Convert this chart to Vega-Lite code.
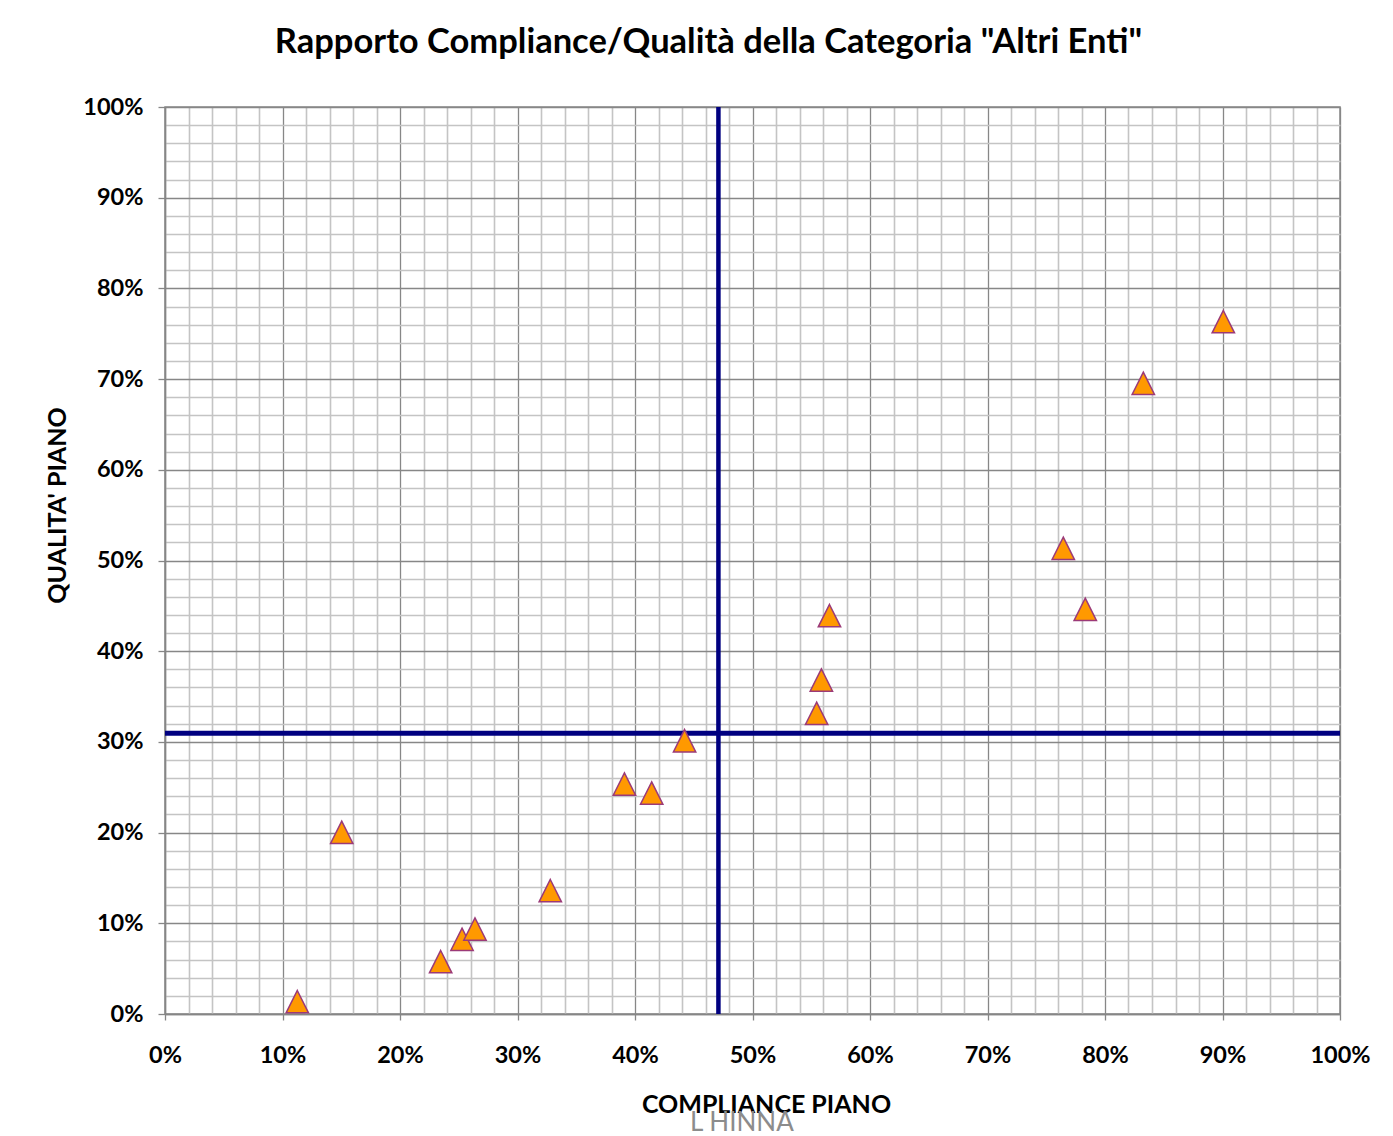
{
  "$schema": "https://vega.github.io/schema/vega-lite/v6.json",
  "width": 1175,
  "height": 907,
  "autosize": {"type": "none"},
  "padding": {"left": 165, "top": 107, "right": 53, "bottom": 122},
  "background": "white",
  "title": {
    "text": "Rapporto Compliance/Qualità della Categoria \"Altri Enti\"",
    "font": "Lato",
    "fontSize": 34.5,
    "fontWeight": "bold",
    "color": "#000000",
    "anchor": "middle",
    "frame": "group",
    "baseline": "alphabetic",
    "dx": -44,
    "offset": 8
  },
  "config": {
    "view": {"stroke": "#868686", "strokeWidth": 1.5},
    "axis": {
      "tickCount": 100,
      "labelExpr": "round(datum.value*100) % 10 === 0 ? round(datum.value*100) + '%' : ''",
      "labelOverlap": false,
      "labelBound": false,
      "labelFlush": false,
      "labelFont": "Lato",
      "labelFontSize": 23.5,
      "labelFontWeight": "bold",
      "labelColor": "#000000",
      "grid": true,
      "gridColor": {"condition": {"test": "round(datum.value*100) % 10 === 0", "value": "#878787"}, "value": "#c4c4c4"},
      "gridWidth": {"condition": {"test": "round(datum.value*100) % 10 === 0", "value": 1.3}, "value": 1.6},
      "domain": true,
      "domainColor": "#868686",
      "domainWidth": 1.5,
      "ticks": true,
      "tickColor": "#868686",
      "tickWidth": 1.3,
      "tickOpacity": {"condition": {"test": "round(datum.value*100) % 10 === 0", "value": 1}, "value": 0},
      "titleFont": "Lato",
      "titleFontSize": 25,
      "titleFontWeight": "bold",
      "titleColor": "#000000"
    },
    "axisX": {"tickSize": 6, "labelPadding": 23},
    "axisY": {"tickSize": 7, "labelPadding": 15}
  },
  "layer": [
    {
      "data": {"values": [{"compliance": 0.471}]},
      "mark": {"type": "rule", "color": "#000080", "strokeWidth": 4.5},
      "encoding": {
        "x": {
          "field": "compliance",
          "type": "quantitative",
          "scale": {"domain": [0, 1], "nice": false, "zero": false},
          "axis": {
            "tickCount": 100,
            "values": [0,0.02,0.04,0.06,0.08,0.1,0.12,0.14,0.16,0.18,0.2,0.22,0.24,0.26,0.28,0.3,0.32,0.34,0.36,0.38,0.4,0.42,0.44,0.46,0.48,0.5,0.52,0.54,0.56,0.58,0.6,0.62,0.64,0.66,0.68,0.7,0.72,0.74,0.76,0.78,0.8,0.82,0.84,0.86,0.88,0.9,0.92,0.94,0.96,0.98,1],
            "title": "COMPLIANCE PIANO", "titleX": 601, "titleY": 98, "titleBaseline": "alphabetic", "titleAlign": "center", "titleAnchor": null}
        }
      }
    },
    {
      "data": {"values": [{"qualita": 0.3095}]},
      "mark": {"type": "rule", "color": "#000080", "strokeWidth": 5},
      "encoding": {
        "y": {
          "field": "qualita",
          "type": "quantitative",
          "scale": {"domain": [0, 1], "nice": false, "zero": false},
          "axis": {
            "tickCount": 100,
            "values": [0,0.02,0.04,0.06,0.08,0.1,0.12,0.14,0.16,0.18,0.2,0.22,0.24,0.26,0.28,0.3,0.32,0.34,0.36,0.38,0.4,0.42,0.44,0.46,0.48,0.5,0.52,0.54,0.56,0.58,0.6,0.62,0.64,0.66,0.68,0.7,0.72,0.74,0.76,0.78,0.8,0.82,0.84,0.86,0.88,0.9,0.92,0.94,0.96,0.98,1],
            "title": "QUALITA' PIANO", "titleAngle": 270, "titleX": -108, "titleY": 398, "titleBaseline": "middle", "titleAlign": "center", "titleAnchor": null}
        }
      }
    },
    {
      "data": {"values": [
        {"compliance": 0.1126, "qualita": 0.0136},
        {"compliance": 0.1504, "qualita": 0.2003},
        {"compliance": 0.2346, "qualita": 0.0577},
        {"compliance": 0.2528, "qualita": 0.0823},
        {"compliance": 0.2638, "qualita": 0.0937},
        {"compliance": 0.3279, "qualita": 0.136},
        {"compliance": 0.391, "qualita": 0.2535},
        {"compliance": 0.4142, "qualita": 0.2436},
        {"compliance": 0.4422, "qualita": 0.3013},
        {"compliance": 0.5546, "qualita": 0.3315},
        {"compliance": 0.5586, "qualita": 0.3682},
        {"compliance": 0.5655, "qualita": 0.4392},
        {"compliance": 0.7645, "qualita": 0.5134},
        {"compliance": 0.7832, "qualita": 0.4462},
        {"compliance": 0.8326, "qualita": 0.6954},
        {"compliance": 0.9007, "qualita": 0.7633}
      ]},
      "mark": {"type": "point", "shape": "M0,-1L1,1L-1,1Z", "filled": true, "fill": "#FF9900", "stroke": "#9B3A78", "strokeWidth": 1.5, "size": 500, "opacity": 1},
      "encoding": {
        "x": {"field": "compliance", "type": "quantitative"},
        "y": {"field": "qualita", "type": "quantitative"}
      }
    },
    {
      "data": {"values": [{"compliance": 0.491, "qualita": -0.129, "note": "L HINNA"}]},
      "mark": {"type": "text", "font": "Lato", "fontSize": 26, "color": "#8c8c8c", "align": "center", "baseline": "alphabetic"},
      "encoding": {
        "x": {"field": "compliance", "type": "quantitative"},
        "y": {"field": "qualita", "type": "quantitative"},
        "text": {"field": "note"}
      }
    }
  ]
}
